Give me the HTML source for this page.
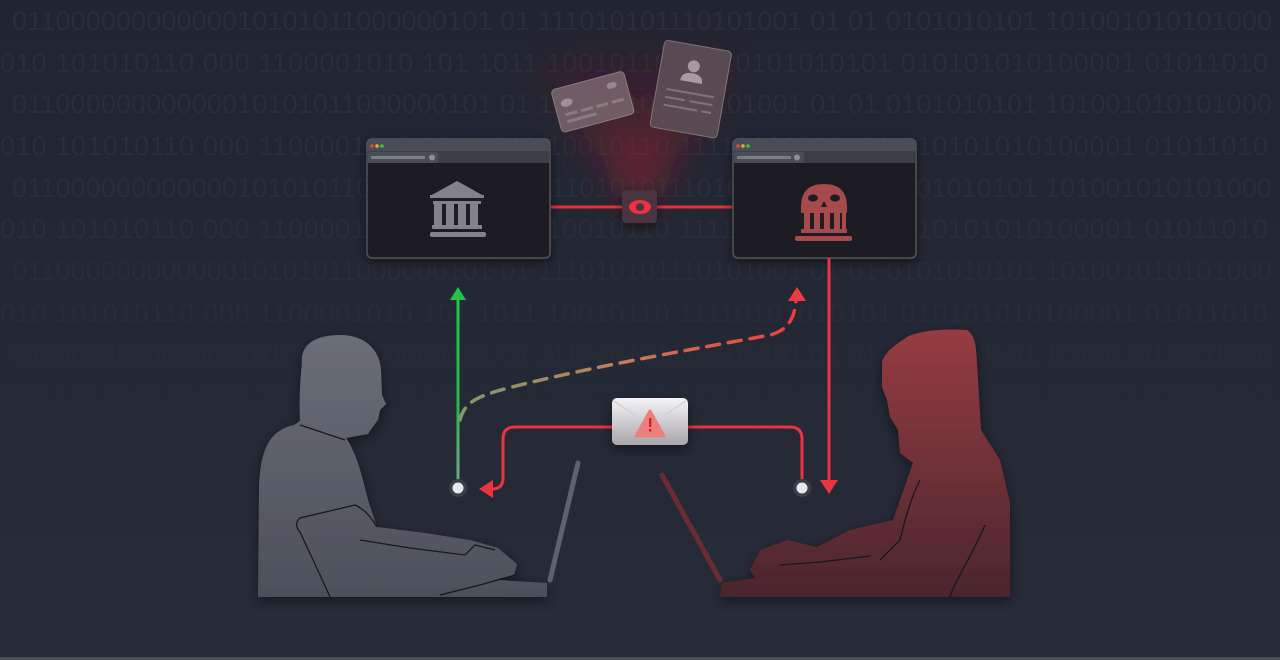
<!DOCTYPE html>
<html><head><meta charset="utf-8"><style>
html,body{margin:0;padding:0;background:#232834;}
svg{display:block}
</style></head><body>
<svg width="1280" height="660" viewBox="0 0 1280 660" xmlns="http://www.w3.org/2000/svg">
<defs>
<linearGradient id="bg" x1="0" y1="0" x2="0" y2="1"><stop offset="0" stop-color="#212532"/><stop offset="1" stop-color="#272c38"/></linearGradient>
<linearGradient id="gp" x1="0" y1="0" x2="0" y2="1"><stop offset="0" stop-color="#6a6e78"/><stop offset="1" stop-color="#4c505b"/></linearGradient>
<linearGradient id="rp" x1="0" y1="0" x2="0" y2="1"><stop offset="0" stop-color="#963c42"/><stop offset="1" stop-color="#4a262d"/></linearGradient>
<linearGradient id="cone" x1="0" y1="1" x2="0" y2="0"><stop offset="0" stop-color="#e0202e" stop-opacity="0.55"/><stop offset="0.5" stop-color="#a01a26" stop-opacity="0.3"/><stop offset="1" stop-color="#801522" stop-opacity="0"/></linearGradient>
<linearGradient id="gl" gradientUnits="userSpaceOnUse" x1="0" y1="290" x2="0" y2="488"><stop offset="0" stop-color="#22c24a"/><stop offset="0.6" stop-color="#2bb44f"/><stop offset="1" stop-color="#8fd8b0" stop-opacity="0.7"/></linearGradient>
<linearGradient id="dash" x1="0" y1="0" x2="1" y2="0"><stop offset="0" stop-color="#7c9a6a"/><stop offset="0.5" stop-color="#c87a5c"/><stop offset="1" stop-color="#ef3a40"/></linearGradient>
<linearGradient id="env" x1="0" y1="0" x2="0" y2="1"><stop offset="0" stop-color="#f4f4f6"/><stop offset="1" stop-color="#a9a5ab"/></linearGradient>
<filter id="blur" x="-50%" y="-50%" width="200%" height="200%"><feGaussianBlur stdDeviation="18"/></filter>
<filter id="sh" x="-20%" y="-20%" width="140%" height="150%"><feDropShadow dx="0" dy="4" stdDeviation="6" flood-color="#000" flood-opacity="0.45"/></filter>
</defs>
<rect width="1280" height="660" fill="url(#bg)"/>
<rect y="657" width="1280" height="3" fill="#4a4f5a"/>
<g font-family="Liberation Sans, sans-serif" font-size="27" fill="#292e3b">
<text x="12" y="30" textLength="1260">01100000000000010101011000000101 01 111010101110101001 01 01 0101010101 101001010101000</text>
<text x="0" y="72" textLength="1268">010 101010110 000 1100001010 101 1011 10010110 11110101010101 010101010100001 01011010</text>
<text x="12" y="113" textLength="1260">01100000000000010101011000000101 01 111010101110101001 01 01 0101010101 101001010101000</text>
<text x="0" y="155" textLength="1268">010 101010110 000 1100001010 101 1011 10010110 11110101010101 010101010100001 01011010</text>
<text x="12" y="197" textLength="1260">01100000000000010101011000000101 01 111010101110101001 01 01 0101010101 101001010101000</text>
<text x="0" y="238" textLength="1268">010 101010110 000 1100001010 101 1011 10010110 11110101010101 010101010100001 01011010</text>
<text x="12" y="280" textLength="1260" fill="#282d3a">01100000000000010101011000000101 01 111010101110101001 01 01 0101010101 101001010101000</text>
<text x="0" y="322" textLength="1268" fill="#272c39">010 101010110 000 1100001010 101 1011 10010110 11110101010101 010101010100001 01011010</text>
<text x="12" y="363" textLength="1260" fill="#262b38">01100000000000010101011000000101 01 111010101110101001 01 01 0101010101 101001010101000</text>
<text x="0" y="405" textLength="1268" fill="#252a37">010 101010110 000 1100001010 101 1011 10010110 11110101010101 010101010100001 01011010</text>
<text x="12" y="447" textLength="1260" fill="#252a36">01100000000000010101011000000101 01 111010101110101001 01 01 0101010101 101001010101000</text>
</g>
<!-- glow cone -->
<path d="M640,210 L530,60 Q640,10 750,50 Z" fill="url(#cone)" filter="url(#blur)"/>
<!-- cards -->
<g transform="rotate(-15 592 101)" opacity="0.85">
<rect x="555" y="80" width="75" height="44" rx="4" fill="#7a666e" stroke="#968a90" stroke-width="1"/>
<ellipse cx="567" cy="96" rx="6" ry="4" fill="#b0a2a8"/>
<rect x="610" y="88" width="10" height="6" rx="3" fill="#a8989e"/>
<rect x="563" y="106" width="12" height="3" fill="#9a8a90"/><rect x="579" y="106" width="12" height="3" fill="#9a8a90"/><rect x="595" y="106" width="12" height="3" fill="#9a8a90"/><rect x="611" y="106" width="12" height="3" fill="#9a8a90"/>
<rect x="563" y="113" width="30" height="3" fill="#9a8a90"/>
</g>
<g transform="rotate(10 690 88)" opacity="0.9">
<rect x="657" y="45" width="68" height="88" rx="4" fill="#5e4e56" stroke="#8a7c82" stroke-width="1"/>
<circle cx="690" cy="66" r="6" fill="#b4a8ac"/>
<path d="M679,82 Q679,73 690,73 Q701,73 701,82 Z" fill="#b4a8ac"/>
<rect x="667" y="92" width="48" height="2" fill="#8a7c82"/><rect x="667" y="100" width="20" height="2" fill="#8a7c82"/><rect x="692" y="100" width="23" height="2" fill="#8a7c82"/><rect x="667" y="108" width="34" height="2" fill="#8a7c82"/><rect x="705" y="108" width="10" height="2" fill="#8a7c82"/>
</g>
<!-- connector line -->
<line x1="550" y1="207" x2="733" y2="207" stroke="#e8303c" stroke-width="3"/>
<!-- browsers -->
<g filter="url(#sh)">
<rect x="367" y="139" width="183" height="119" rx="5" fill="#1d1e22" stroke="#50535b" stroke-width="1.5"/>
<rect x="733" y="139" width="183" height="119" rx="5" fill="#1d1e22" stroke="#50535b" stroke-width="1.5"/>
</g>
<g>
<path d="M367.5,151 V144 a5,5 0 0 1 5,-5 H545 a5,5 0 0 1 5,5 V151 Z" fill="#4a4d55"/>
<rect x="368" y="151" width="181" height="12" fill="#3c3f46"/>
<rect x="368" y="152" width="70" height="11" rx="2" fill="#4a4d55"/>
<rect x="371" y="156" width="54" height="3" fill="#7a7d84"/><circle cx="432" cy="157.5" r="3" fill="#8a8d94"/>
<circle cx="372" cy="146" r="1.8" fill="#e8444a"/><circle cx="377" cy="146" r="1.8" fill="#e8b02a"/><circle cx="382" cy="146" r="1.8" fill="#3cc43c"/>
<path d="M733.5,151 V144 a5,5 0 0 1 5,-5 H911 a5,5 0 0 1 5,5 V151 Z" fill="#4a4d55"/>
<rect x="734" y="151" width="181" height="12" fill="#3c3f46"/>
<rect x="734" y="152" width="70" height="11" rx="2" fill="#4a4d55"/>
<rect x="737" y="156" width="54" height="3" fill="#7a7d84"/><circle cx="797" cy="157.5" r="3" fill="#8a8d94"/>
<circle cx="738" cy="146" r="1.8" fill="#e8444a"/><circle cx="743" cy="146" r="1.8" fill="#e8b02a"/><circle cx="748" cy="146" r="1.8" fill="#3cc43c"/>
</g>
<!-- bank icon -->
<g fill="#828388">
<path d="M430,196 L457,181 L484,196 Z"/>
<rect x="430" y="195" width="54" height="3"/>
<rect x="434" y="201" width="8" height="24"/><rect x="446" y="201" width="8" height="24"/><rect x="458" y="201" width="8" height="24"/><rect x="470" y="201" width="8" height="24"/>
<rect x="433" y="201" width="48" height="3"/>
<rect x="432" y="225" width="50" height="4"/>
<rect x="430" y="232" width="56" height="5" rx="2"/>
</g>
<!-- skull bank -->
<g fill="#a64a4c">
<path d="M801,207 Q801,184 824,184 Q847,184 847,207 L847,213 L801,213 Z"/>
<rect x="804" y="212" width="6" height="18"/><rect x="814" y="212" width="6" height="18"/><rect x="824" y="212" width="6" height="18"/><rect x="834" y="212" width="6" height="18"/><rect x="842" y="212" width="4" height="18"/>
<rect x="801" y="229" width="46" height="4"/>
<rect x="795" y="236" width="57" height="5" rx="2"/>
<ellipse cx="813" cy="198" rx="5" ry="3.5" fill="#1d1e22"/><ellipse cx="835" cy="198" rx="5" ry="3.5" fill="#1d1e22"/>
<path d="M824,201 L821,207 L827,207 Z" fill="#1d1e22"/>
</g>
<!-- eye -->
<rect x="622" y="190" width="35" height="33" rx="4" fill="#4a3640" filter="url(#sh)"/>
<ellipse cx="640" cy="207" rx="11" ry="7" fill="#ef3040"/>
<circle cx="640" cy="207" r="4" fill="#4a3640"/>
<!-- people -->
<g filter="url(#sh)">
<path d="M258,597 L259,490 C260,445 272,430 294,425 L300,421 C299,400 300,382 302,363 C300,345 315,335 340,335 C365,335 380,350 381,370 L382,395 L386,404 L380,410 L378,420 L372,428 L368,434 L346,438 C356,452 362,475 368,500 L377,527 L425,533 L470,540 L498,548 L517,564 L514,575 L498,580 L547,583 L547,597 Z" fill="url(#gp)"/>
<path d="M1010,597 L1010,503 L1000,460 L981,430 L977,363 C976,345 975,335 967,330 C940,328 915,332 907,337 C895,345 885,352 882,362 L882,387 L887,400 L890,417 L898,430 L900,453 L913,463 L893,520 L850,530 L817,547 L787,540 L760,550 L750,570 L755,578 L722,583 L720,597 Z" fill="url(#rp)"/>
</g>
<g fill="none" stroke="#17191f" stroke-width="1.3">
<path d="M300,425 L345,440"/>
<path d="M377,527 C370,515 362,508 355,505 L300,518 C295,522 296,528 300,532 L320,575 L330,597"/>
<path d="M360,540 L410,548 L465,555 L475,545 L495,550"/>
<path d="M440,595 L480,585 L515,575"/>
<path d="M920,480 C910,500 905,520 900,540 L880,560"/>
<path d="M985,525 C970,560 955,580 950,597"/>
<path d="M780,565 L820,562 L870,556"/>
</g>
<line x1="578" y1="463" x2="550" y2="580" stroke="#5e626c" stroke-width="5" stroke-linecap="round"/>
<line x1="662" y1="475" x2="720" y2="580" stroke="#6a2c32" stroke-width="5" stroke-linecap="round"/>
<!-- connectors -->
<line x1="458" y1="484" x2="458" y2="298" stroke="url(#gl)" stroke-width="3"/>
<path d="M450,300 L458,287 L466,300 Z" fill="#22c24a"/>
<path d="M460,420 C465,400 480,395 520,385 C600,365 700,348 770,335 C790,330 795,315 796,300" fill="none" stroke="url(#dash)" stroke-width="3.5" stroke-dasharray="13 9" stroke-linecap="round"/>
<path d="M788,301 L797,287 L806,301 Z" fill="#ef3a40"/>
<line x1="829" y1="258" x2="829" y2="482" stroke="#ea3440" stroke-width="3"/>
<path d="M820,480 L829,494 L838,480 Z" fill="#ea3440"/>
<path d="M612,427 H515 Q503,427 503,439 V478 Q503,489 492,489 H490" fill="none" stroke="#ea3440" stroke-width="3"/>
<path d="M493,480 L479,489 L493,498 Z" fill="#ea3440"/>
<path d="M688,427 H790 Q802,427 802,439 V484" fill="none" stroke="#ea3440" stroke-width="3"/>
<circle cx="458" cy="488" r="9" fill="#3a3e48"/><circle cx="458" cy="488" r="5.5" fill="#e8e8ee"/>
<circle cx="802" cy="488" r="9" fill="#3a3e48"/><circle cx="802" cy="488" r="5.5" fill="#e8e8ee"/>
<!-- envelope -->
<g filter="url(#sh)">
<rect x="612" y="398" width="76" height="47" rx="5" fill="url(#env)"/>
</g>
<path d="M614,401 L650,425 L686,401" fill="none" stroke="#d4d2d6" stroke-width="1.5"/>
<path d="M650,411 L664,436 L636,436 Z" fill="#e9827f" stroke="#e9827f" stroke-width="3" stroke-linejoin="round"/>
<rect x="649" y="418" width="2.4" height="9" fill="#d0202a"/><rect x="649" y="429" width="2.4" height="2.6" fill="#d0202a"/>
</svg>
</body></html>
